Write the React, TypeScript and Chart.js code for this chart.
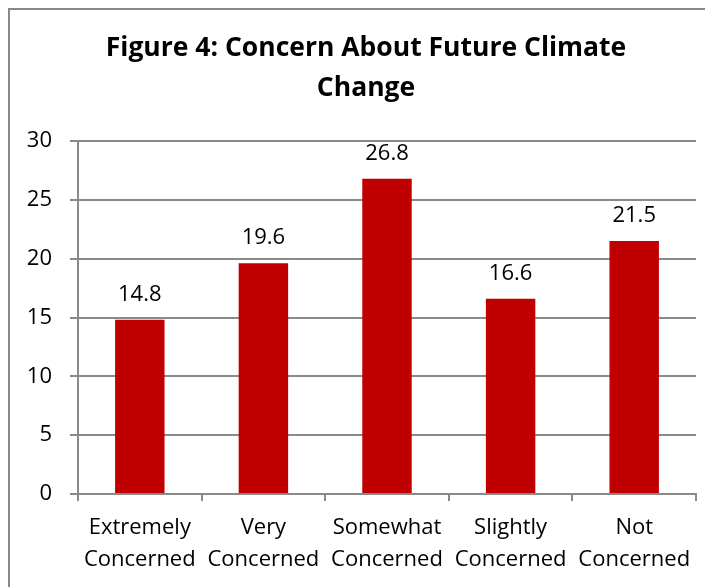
import React, { useEffect, useRef } from "react";
import { Chart, registerables } from "chart.js";

Chart.register(...registerables);

const categories: string[][] = [
  ["Extremely", "Concerned"],
  ["Very", "Concerned"],
  ["Somewhat", "Concerned"],
  ["Slightly", "Concerned"],
  ["Not", "Concerned"],
];
const values: number[] = [14.8, 19.6, 26.8, 16.6, 21.5];
const titleLines: string[] = ["Figure 4: Concern About Future Climate", "Change"];
const yMin = 0;
const yMax = 30;
const yStep = 5;

const FONT = "'Open Sans', sans-serif";
const GRID = "#8a8a8a";
const BAR = "#C00000";
const TICK_SIZE = 22;

const valueLabels = {
  id: "valueLabels",
  afterDatasetsDraw(chart: any) {
    const ctx = chart.ctx;
    const meta = chart.getDatasetMeta(0);
    ctx.save();
    ctx.font = `${TICK_SIZE}px ${FONT}`;
    ctx.fillStyle = "#000";
    ctx.textAlign = "center";
    ctx.textBaseline = "alphabetic";
    meta.data.forEach((bar: any, i: number) => {
      ctx.fillText(values[i].toFixed(1), bar.x, bar.y - 19);
    });
    ctx.restore();
  },
};

const CW = 712;
const CH = 577;

export default function App() {
  const ref = useRef<HTMLCanvasElement | null>(null);
  useEffect(() => {
    if (!ref.current) return;
    const chart = new Chart(ref.current, {
      type: "bar",
      data: {
        labels: categories,
        datasets: [
          {
            data: values,
            backgroundColor: BAR,
            borderWidth: 0,
            categoryPercentage: 1,
            barPercentage: 0.4,
          },
        ],
      },
      options: {
        responsive: false,
        animation: false,
        layout: { padding: 0 },
        plugins: {
          legend: { display: false },
          tooltip: { enabled: false },
          title: {
            display: true,
            text: titleLines,
            color: "#000",
            font: { family: FONT, size: 26.5, weight: "bold", lineHeight: 40 / 26.5 },
            padding: { top: 18, bottom: 33 },
          },
        },
        scales: {
          x: {
            afterFit(scale: any) {
              scale.height = CH - 484;
            },
            grid: {
              offset: true,
              drawOnChartArea: false,
              drawTicks: true,
              tickLength: 7,
              color: GRID,
              lineWidth: 2,
            },
            border: { display: true, color: GRID, width: 2 },
            ticks: {
              color: "#000",
              padding: 11,
              maxRotation: 0,
              autoSkip: false,
              font: { family: FONT, size: TICK_SIZE, lineHeight: 32 / TICK_SIZE },
            },
          },
          y: {
            min: yMin,
            max: yMax,
            afterFit(scale: any) {
              scale.width = 68;
            },
            grid: {
              color: GRID,
              lineWidth: 2,
              drawTicks: true,
              tickLength: 8,
            },
            border: { display: true, color: GRID, width: 2 },
            ticks: {
              stepSize: yStep,
              color: "#000",
              padding: 18,
              font: { family: FONT, size: TICK_SIZE },
            },
          },
          spacer: {
            type: "linear",
            position: "right",
            display: true,
            afterFit(scale: any) {
              scale.width = 26;
            },
            grid: { display: false, drawOnChartArea: false },
            border: { display: false },
            ticks: { display: false },
          },
        },
      },
      plugins: [valueLabels],
    });
    return () => chart.destroy();
  }, []);

  return (
    <div style={{ width: 705, height: 579, overflow: "hidden" }}>
      <div
        style={{
          width: CW,
          height: 600,
          border: "2px solid #888",
          background: "#fff",
        }}
      >
        <canvas ref={ref} width={CW} height={CH} style={{ display: "block" }} />
      </div>
    </div>
  );
}
